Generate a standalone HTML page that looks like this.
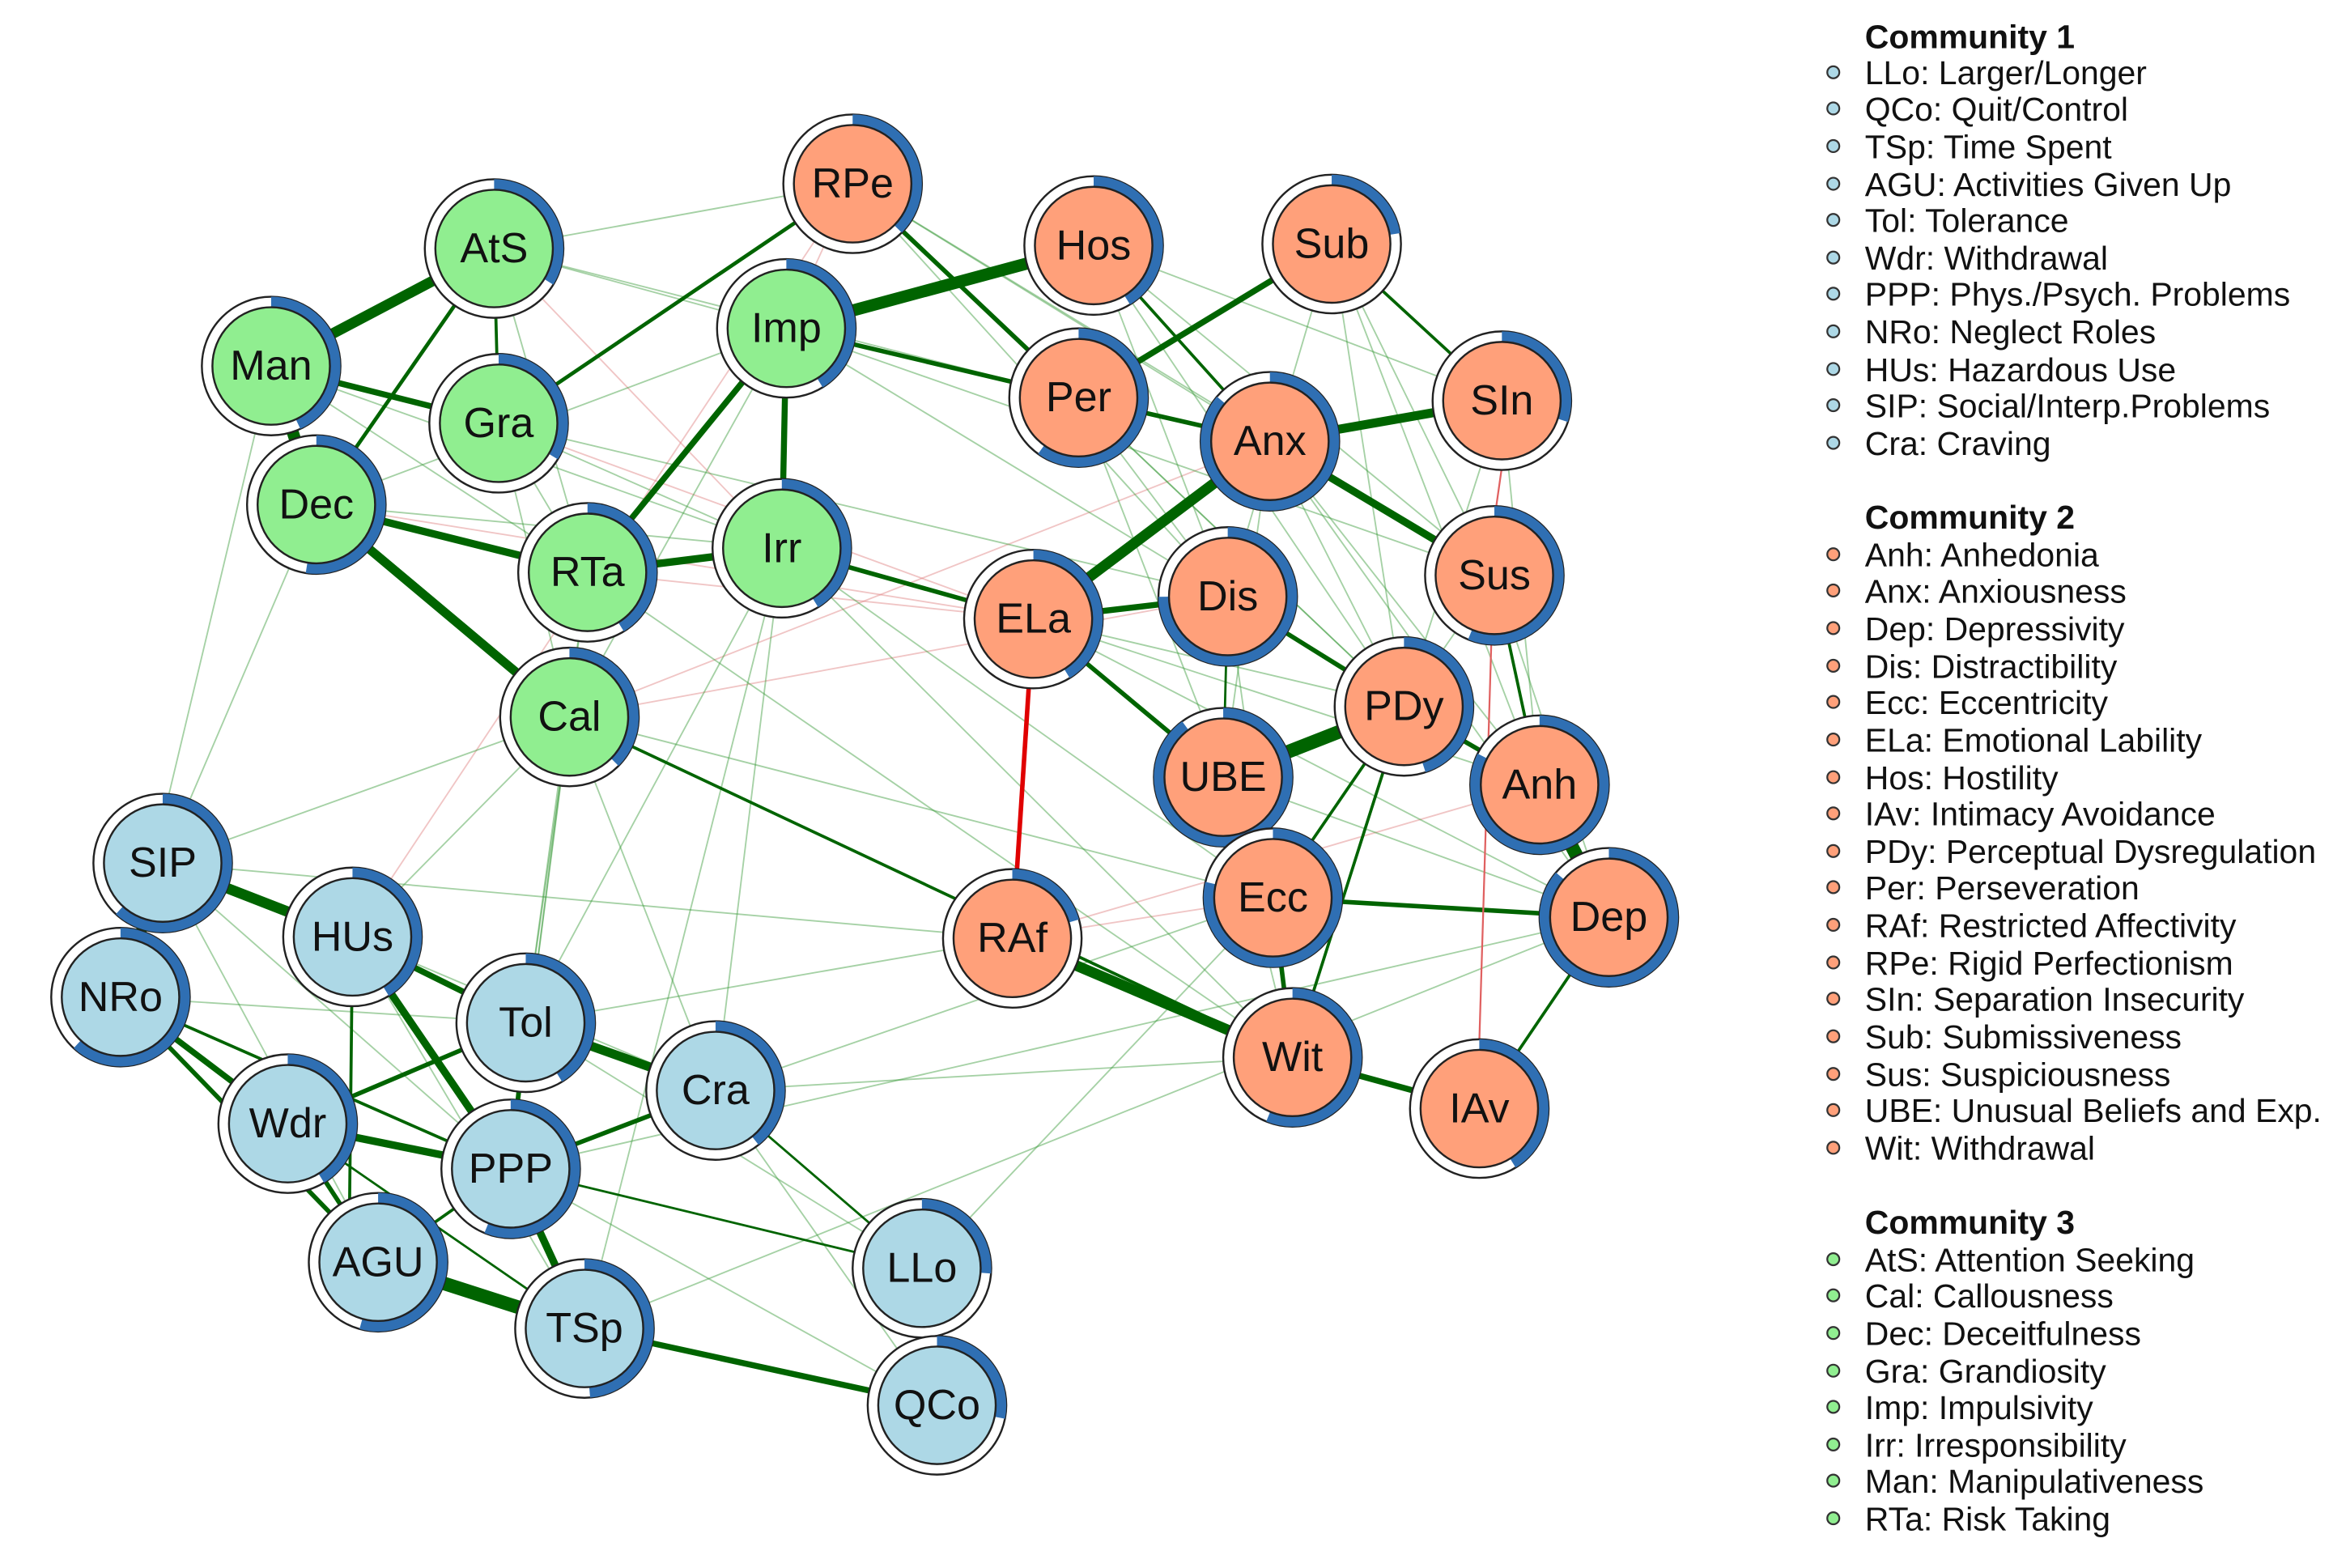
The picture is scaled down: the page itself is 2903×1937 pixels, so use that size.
<!DOCTYPE html>
<html><head><meta charset="utf-8"><style>
html,body{margin:0;padding:0;background:#fff;}
svg{display:block;}
.n text{font-family:"Liberation Sans",sans-serif;font-size:28px;text-anchor:middle;dominant-baseline:central;fill:#111;}
.lg text{font-family:"Liberation Sans",sans-serif;font-size:22px;fill:#111;}
.lg .h{font-weight:bold;}
.s line{stroke:#006400;stroke-linecap:round;}
.f line{stroke:#3a9a3a;stroke-width:1;opacity:.45;}
.p line{stroke:#e08080;stroke-width:1;opacity:.45;}
</style></head><body>
<svg width="2903" height="1937" viewBox="0 0 1560 1041" preserveAspectRatio="none">
<rect width="1560" height="1041" fill="#fff"/>
<g class="p">
<line x1="331" y1="281" x2="686" y2="411"/><line x1="210" y1="335" x2="686" y2="411"/>
<line x1="378" y1="476" x2="843" y2="293"/><line x1="378" y1="476" x2="815" y2="396"/>
<line x1="328" y1="165" x2="519" y2="364"/><line x1="390" y1="380" x2="686" y2="411"/>
<line x1="566" y1="122" x2="522" y2="218"/><line x1="672" y1="623" x2="845" y2="596"/>
<line x1="234" y1="622" x2="566" y2="122"/><line x1="672" y1="623" x2="1022" y2="521"/>
</g>
<g class="f">
<line x1="210" y1="335" x2="519" y2="364"/><line x1="331" y1="281" x2="815" y2="396"/><line x1="331" y1="281" x2="519" y2="364"/>
<line x1="180" y1="243" x2="519" y2="364"/><line x1="328" y1="165" x2="566" y2="122"/><line x1="328" y1="165" x2="522" y2="218"/>
<line x1="522" y1="218" x2="843" y2="293"/><line x1="522" y1="218" x2="815" y2="396"/><line x1="522" y1="218" x2="992" y2="382"/>
<line x1="566" y1="122" x2="843" y2="293"/><line x1="566" y1="122" x2="992" y2="382"/><line x1="566" y1="122" x2="815" y2="396"/>
<line x1="726" y1="163" x2="992" y2="382"/><line x1="726" y1="163" x2="932" y2="469"/><line x1="726" y1="163" x2="815" y2="396"/>
<line x1="726" y1="163" x2="997" y2="266"/><line x1="884" y1="162" x2="815" y2="396"/><line x1="884" y1="162" x2="1022" y2="521"/>
<line x1="884" y1="162" x2="992" y2="382"/><line x1="716" y1="264" x2="815" y2="396"/><line x1="716" y1="264" x2="845" y2="596"/>
<line x1="716" y1="264" x2="932" y2="469"/><line x1="843" y1="293" x2="932" y2="469"/><line x1="843" y1="293" x2="1022" y2="521"/>
<line x1="843" y1="293" x2="1068" y2="609"/><line x1="997" y1="266" x2="932" y2="469"/><line x1="997" y1="266" x2="1022" y2="521"/>
<line x1="992" y1="382" x2="932" y2="469"/><line x1="992" y1="382" x2="1068" y2="609"/><line x1="815" y1="396" x2="1022" y2="521"/>
<line x1="815" y1="396" x2="858" y2="702"/><line x1="686" y1="411" x2="932" y2="469"/><line x1="686" y1="411" x2="1022" y2="521"/>
<line x1="812" y1="516" x2="858" y2="702"/><line x1="812" y1="516" x2="1068" y2="609"/><line x1="378" y1="476" x2="108" y2="573"/>
<line x1="378" y1="476" x2="234" y2="622"/><line x1="378" y1="476" x2="349" y2="679"/><line x1="378" y1="476" x2="339" y2="776"/>
<line x1="378" y1="476" x2="475" y2="724"/><line x1="519" y1="364" x2="475" y2="724"/><line x1="519" y1="364" x2="388" y2="882"/>
<line x1="390" y1="380" x2="339" y2="776"/><line x1="390" y1="380" x2="349" y2="679"/><line x1="519" y1="364" x2="349" y2="679"/>
<line x1="108" y1="573" x2="672" y2="623"/><line x1="349" y1="679" x2="672" y2="623"/><line x1="475" y1="724" x2="845" y2="596"/>
<line x1="475" y1="724" x2="858" y2="702"/><line x1="378" y1="476" x2="845" y2="596"/><line x1="522" y1="218" x2="378" y2="476"/>
<line x1="331" y1="281" x2="390" y2="380"/><line x1="331" y1="281" x2="378" y2="476"/><line x1="328" y1="165" x2="390" y2="380"/>
<line x1="210" y1="335" x2="522" y2="218"/><line x1="180" y1="243" x2="390" y2="380"/><line x1="390" y1="380" x2="858" y2="702"/>
<line x1="519" y1="364" x2="845" y2="596"/><line x1="612" y1="842" x2="845" y2="596"/><line x1="388" y1="882" x2="1068" y2="609"/>
<line x1="339" y1="776" x2="1068" y2="609"/><line x1="80" y1="662" x2="349" y2="679"/><line x1="108" y1="573" x2="339" y2="776"/>
<line x1="108" y1="573" x2="251" y2="838"/><line x1="80" y1="662" x2="339" y2="776"/><line x1="234" y1="622" x2="388" y2="882"/>
<line x1="234" y1="622" x2="475" y2="724"/><line x1="349" y1="679" x2="612" y2="842"/><line x1="339" y1="776" x2="622" y2="933"/>
<line x1="475" y1="724" x2="622" y2="933"/><line x1="210" y1="335" x2="108" y2="573"/><line x1="180" y1="243" x2="80" y2="662"/>
<line x1="328" y1="165" x2="716" y2="264"/><line x1="519" y1="364" x2="858" y2="702"/><line x1="686" y1="411" x2="1068" y2="609"/>
<line x1="566" y1="122" x2="932" y2="469"/><line x1="884" y1="162" x2="932" y2="469"/><line x1="843" y1="293" x2="812" y2="516"/>
</g>
<g class="s">
<line x1="180" y1="243" x2="328" y2="165" stroke-width="7"/><line x1="180" y1="243" x2="210" y2="335" stroke-width="8"/>
<line x1="180" y1="243" x2="331" y2="281" stroke-width="4"/><line x1="328" y1="165" x2="210" y2="335" stroke-width="2.5"/>
<line x1="328" y1="165" x2="331" y2="281" stroke-width="2"/><line x1="331" y1="281" x2="566" y2="122" stroke-width="2.5"/>
<line x1="210" y1="335" x2="390" y2="380" stroke-width="5"/><line x1="210" y1="335" x2="378" y2="476" stroke-width="6"/>
<line x1="390" y1="380" x2="519" y2="364" stroke-width="5"/><line x1="390" y1="380" x2="522" y2="218" stroke-width="4"/>
<line x1="522" y1="218" x2="519" y2="364" stroke-width="4"/><line x1="522" y1="218" x2="726" y2="163" stroke-width="8"/>
<line x1="522" y1="218" x2="716" y2="264" stroke-width="3"/><line x1="566" y1="122" x2="716" y2="264" stroke-width="3"/>
<line x1="519" y1="364" x2="686" y2="411" stroke-width="3"/><line x1="716" y1="264" x2="884" y2="162" stroke-width="4"/>
<line x1="716" y1="264" x2="843" y2="293" stroke-width="3"/><line x1="843" y1="293" x2="997" y2="266" stroke-width="6"/>
<line x1="843" y1="293" x2="686" y2="411" stroke-width="7"/><line x1="843" y1="293" x2="992" y2="382" stroke-width="5"/>
<line x1="884" y1="162" x2="997" y2="266" stroke-width="2"/><line x1="726" y1="163" x2="843" y2="293" stroke-width="2"/>
<line x1="686" y1="411" x2="815" y2="396" stroke-width="4"/><line x1="686" y1="411" x2="812" y2="516" stroke-width="3"/>
<line x1="815" y1="396" x2="932" y2="469" stroke-width="3"/><line x1="932" y1="469" x2="812" y2="516" stroke-width="9"/>
<line x1="932" y1="469" x2="1022" y2="521" stroke-width="3"/><line x1="1022" y1="521" x2="1068" y2="609" stroke-width="9"/>
<line x1="845" y1="596" x2="1068" y2="609" stroke-width="3"/><line x1="845" y1="596" x2="858" y2="702" stroke-width="3"/>
<line x1="672" y1="623" x2="858" y2="702" stroke-width="7"/><line x1="858" y1="702" x2="982" y2="736" stroke-width="4"/>
<line x1="858" y1="702" x2="932" y2="469" stroke-width="2"/><line x1="1068" y1="609" x2="982" y2="736" stroke-width="2"/>
<line x1="845" y1="596" x2="812" y2="516" stroke-width="2"/><line x1="845" y1="596" x2="932" y2="469" stroke-width="2"/>
<line x1="815" y1="396" x2="812" y2="516" stroke-width="1.5"/><line x1="378" y1="476" x2="858" y2="702" stroke-width="2"/>
<line x1="992" y1="382" x2="1022" y2="521" stroke-width="2"/><line x1="686" y1="411" x2="672" y2="623" stroke-width="1.5"/>
<line x1="108" y1="573" x2="234" y2="622" stroke-width="7"/><line x1="108" y1="573" x2="80" y2="662" stroke-width="7"/>
<line x1="80" y1="662" x2="191" y2="746" stroke-width="4"/><line x1="80" y1="662" x2="251" y2="838" stroke-width="3"/>
<line x1="234" y1="622" x2="349" y2="679" stroke-width="4"/><line x1="234" y1="622" x2="339" y2="776" stroke-width="5"/>
<line x1="234" y1="622" x2="232" y2="805" stroke-width="2"/><line x1="349" y1="679" x2="475" y2="724" stroke-width="6"/>
<line x1="349" y1="679" x2="191" y2="746" stroke-width="3"/><line x1="349" y1="679" x2="339" y2="776" stroke-width="3"/>
<line x1="191" y1="746" x2="339" y2="776" stroke-width="5"/><line x1="191" y1="746" x2="251" y2="838" stroke-width="3"/>
<line x1="475" y1="724" x2="339" y2="776" stroke-width="3"/><line x1="339" y1="776" x2="388" y2="882" stroke-width="5"/>
<line x1="251" y1="838" x2="388" y2="882" stroke-width="9"/><line x1="339" y1="776" x2="251" y2="838" stroke-width="2"/>
<line x1="388" y1="882" x2="622" y2="933" stroke-width="4"/><line x1="612" y1="842" x2="622" y2="933" stroke-width="8"/>
<line x1="339" y1="776" x2="612" y2="842" stroke-width="1.5"/><line x1="475" y1="724" x2="612" y2="842" stroke-width="1.5"/>
<line x1="80" y1="662" x2="339" y2="776" stroke-width="2"/><line x1="191" y1="746" x2="388" y2="882" stroke-width="1.5"/>
</g>
<line x1="683" y1="455" x2="675" y2="579" stroke="#e00000" stroke-width="3"/>
<line x1="997" y1="310" x2="993" y2="338" stroke="#e06060" stroke-width="1.2"/>
<line x1="990" y1="426" x2="982" y2="692" stroke="#e06060" stroke-width="1.2"/>

<g class="n" stroke="#222" stroke-width="1.3">
<!-- nodes -->
<g><circle cx="566" cy="122" r="46" fill="#fff"/><circle cx="566" cy="122" r="42.5" fill="none" stroke="#2f6fb3" stroke-width="7" stroke-dasharray="100 267" transform="rotate(-90 566 122)"/><circle cx="566" cy="122" r="39" fill="#FFA07A"/><text x="566" y="122" stroke="none">RPe</text></g>
<g><circle cx="726" cy="163" r="46" fill="#fff"/><circle cx="726" cy="163" r="42.5" fill="none" stroke="#2f6fb3" stroke-width="7" stroke-dasharray="110 267" transform="rotate(-90 726 163)"/><circle cx="726" cy="163" r="39" fill="#FFA07A"/><text x="726" y="163" stroke="none">Hos</text></g>
<g><circle cx="884" cy="162" r="46" fill="#fff"/><circle cx="884" cy="162" r="42.5" fill="none" stroke="#2f6fb3" stroke-width="7" stroke-dasharray="60 267" transform="rotate(-90 884 162)"/><circle cx="884" cy="162" r="39" fill="#FFA07A"/><text x="884" y="162" stroke="none">Sub</text></g>
<g><circle cx="328" cy="165" r="46" fill="#fff"/><circle cx="328" cy="165" r="42.5" fill="none" stroke="#2f6fb3" stroke-width="7" stroke-dasharray="90 267" transform="rotate(-90 328 165)"/><circle cx="328" cy="165" r="39" fill="#90EE90"/><text x="328" y="165" stroke="none">AtS</text></g>
<g><circle cx="522" cy="218" r="46" fill="#fff"/><circle cx="522" cy="218" r="42.5" fill="none" stroke="#2f6fb3" stroke-width="7" stroke-dasharray="110 267" transform="rotate(-90 522 218)"/><circle cx="522" cy="218" r="39" fill="#90EE90"/><text x="522" y="218" stroke="none">Imp</text></g>
<g><circle cx="180" cy="243" r="46" fill="#fff"/><circle cx="180" cy="243" r="42.5" fill="none" stroke="#2f6fb3" stroke-width="7" stroke-dasharray="115 267" transform="rotate(-90 180 243)"/><circle cx="180" cy="243" r="39" fill="#90EE90"/><text x="180" y="243" stroke="none">Man</text></g>
<g><circle cx="331" cy="281" r="46" fill="#fff"/><circle cx="331" cy="281" r="42.5" fill="none" stroke="#2f6fb3" stroke-width="7" stroke-dasharray="90 267" transform="rotate(-90 331 281)"/><circle cx="331" cy="281" r="39" fill="#90EE90"/><text x="331" y="281" stroke="none">Gra</text></g>
<g><circle cx="716" cy="264" r="46" fill="#fff"/><circle cx="716" cy="264" r="42.5" fill="none" stroke="#2f6fb3" stroke-width="7" stroke-dasharray="160 267" transform="rotate(-90 716 264)"/><circle cx="716" cy="264" r="39" fill="#FFA07A"/><text x="716" y="264" stroke="none">Per</text></g>
<g><circle cx="843" cy="293" r="46" fill="#fff"/><circle cx="843" cy="293" r="42.5" fill="none" stroke="#2f6fb3" stroke-width="7" stroke-dasharray="230 267" transform="rotate(-90 843 293)"/><circle cx="843" cy="293" r="39" fill="#FFA07A"/><text x="843" y="293" stroke="none">Anx</text></g>
<g><circle cx="997" cy="266" r="46" fill="#fff"/><circle cx="997" cy="266" r="42.5" fill="none" stroke="#2f6fb3" stroke-width="7" stroke-dasharray="80 267" transform="rotate(-90 997 266)"/><circle cx="997" cy="266" r="39" fill="#FFA07A"/><text x="997" y="266" stroke="none">SIn</text></g>
<g><circle cx="210" cy="335" r="46" fill="#fff"/><circle cx="210" cy="335" r="42.5" fill="none" stroke="#2f6fb3" stroke-width="7" stroke-dasharray="140 267" transform="rotate(-90 210 335)"/><circle cx="210" cy="335" r="39" fill="#90EE90"/><text x="210" y="335" stroke="none">Dec</text></g>
<g><circle cx="390" cy="380" r="46" fill="#fff"/><circle cx="390" cy="380" r="42.5" fill="none" stroke="#2f6fb3" stroke-width="7" stroke-dasharray="110 267" transform="rotate(-90 390 380)"/><circle cx="390" cy="380" r="39" fill="#90EE90"/><text x="390" y="380" stroke="none">RTa</text></g>
<g><circle cx="519" cy="364" r="46" fill="#fff"/><circle cx="519" cy="364" r="42.5" fill="none" stroke="#2f6fb3" stroke-width="7" stroke-dasharray="110 267" transform="rotate(-90 519 364)"/><circle cx="519" cy="364" r="39" fill="#90EE90"/><text x="519" y="364" stroke="none">Irr</text></g>
<g><circle cx="686" cy="411" r="46" fill="#fff"/><circle cx="686" cy="411" r="42.5" fill="none" stroke="#2f6fb3" stroke-width="7" stroke-dasharray="110 267" transform="rotate(-90 686 411)"/><circle cx="686" cy="411" r="39" fill="#FFA07A"/><text x="686" y="411" stroke="none">ELa</text></g>
<g><circle cx="815" cy="396" r="46" fill="#fff"/><circle cx="815" cy="396" r="42.5" fill="none" stroke="#2f6fb3" stroke-width="7" stroke-dasharray="200 267" transform="rotate(-90 815 396)"/><circle cx="815" cy="396" r="39" fill="#FFA07A"/><text x="815" y="396" stroke="none">Dis</text></g>
<g><circle cx="992" cy="382" r="46" fill="#fff"/><circle cx="992" cy="382" r="42.5" fill="none" stroke="#2f6fb3" stroke-width="7" stroke-dasharray="150 267" transform="rotate(-90 992 382)"/><circle cx="992" cy="382" r="39" fill="#FFA07A"/><text x="992" y="382" stroke="none">Sus</text></g>
<g><circle cx="378" cy="476" r="46" fill="#fff"/><circle cx="378" cy="476" r="42.5" fill="none" stroke="#2f6fb3" stroke-width="7" stroke-dasharray="100 267" transform="rotate(-90 378 476)"/><circle cx="378" cy="476" r="39" fill="#90EE90"/><text x="378" y="476" stroke="none">Cal</text></g>
<g><circle cx="932" cy="469" r="46" fill="#fff"/><circle cx="932" cy="469" r="42.5" fill="none" stroke="#2f6fb3" stroke-width="7" stroke-dasharray="120 267" transform="rotate(-90 932 469)"/><circle cx="932" cy="469" r="39" fill="#FFA07A"/><text x="932" y="469" stroke="none">PDy</text></g>
<g><circle cx="812" cy="516" r="46" fill="#fff"/><circle cx="812" cy="516" r="42.5" fill="none" stroke="#2f6fb3" stroke-width="7" stroke-dasharray="240 267" transform="rotate(-90 812 516)"/><circle cx="812" cy="516" r="39" fill="#FFA07A"/><text x="812" y="516" stroke="none">UBE</text></g>
<g><circle cx="1022" cy="521" r="46" fill="#fff"/><circle cx="1022" cy="521" r="42.5" fill="none" stroke="#2f6fb3" stroke-width="7" stroke-dasharray="220 267" transform="rotate(-90 1022 521)"/><circle cx="1022" cy="521" r="39" fill="#FFA07A"/><text x="1022" y="521" stroke="none">Anh</text></g>
<g><circle cx="845" cy="596" r="46" fill="#fff"/><circle cx="845" cy="596" r="42.5" fill="none" stroke="#2f6fb3" stroke-width="7" stroke-dasharray="210 267" transform="rotate(-90 845 596)"/><circle cx="845" cy="596" r="39" fill="#FFA07A"/><text x="845" y="596" stroke="none">Ecc</text></g>
<g><circle cx="1068" cy="609" r="46" fill="#fff"/><circle cx="1068" cy="609" r="42.5" fill="none" stroke="#2f6fb3" stroke-width="7" stroke-dasharray="230 267" transform="rotate(-90 1068 609)"/><circle cx="1068" cy="609" r="39" fill="#FFA07A"/><text x="1068" y="609" stroke="none">Dep</text></g>
<g><circle cx="672" cy="623" r="46" fill="#fff"/><circle cx="672" cy="623" r="42.5" fill="none" stroke="#2f6fb3" stroke-width="7" stroke-dasharray="55 267" transform="rotate(-90 672 623)"/><circle cx="672" cy="623" r="39" fill="#FFA07A"/><text x="672" y="623" stroke="none">RAf</text></g>
<g><circle cx="858" cy="702" r="46" fill="#fff"/><circle cx="858" cy="702" r="42.5" fill="none" stroke="#2f6fb3" stroke-width="7" stroke-dasharray="150 267" transform="rotate(-90 858 702)"/><circle cx="858" cy="702" r="39" fill="#FFA07A"/><text x="858" y="702" stroke="none">Wit</text></g>
<g><circle cx="982" cy="736" r="46" fill="#fff"/><circle cx="982" cy="736" r="42.5" fill="none" stroke="#2f6fb3" stroke-width="7" stroke-dasharray="110 267" transform="rotate(-90 982 736)"/><circle cx="982" cy="736" r="39" fill="#FFA07A"/><text x="982" y="736" stroke="none">IAv</text></g>
<g><circle cx="108" cy="573" r="46" fill="#fff"/><circle cx="108" cy="573" r="42.5" fill="none" stroke="#2f6fb3" stroke-width="7" stroke-dasharray="165 267" transform="rotate(-90 108 573)"/><circle cx="108" cy="573" r="39" fill="#ADD8E6"/><text x="108" y="573" stroke="none">SIP</text></g>
<g><circle cx="234" cy="622" r="46" fill="#fff"/><circle cx="234" cy="622" r="42.5" fill="none" stroke="#2f6fb3" stroke-width="7" stroke-dasharray="110 267" transform="rotate(-90 234 622)"/><circle cx="234" cy="622" r="39" fill="#ADD8E6"/><text x="234" y="622" stroke="none">HUs</text></g>
<g><circle cx="80" cy="662" r="46" fill="#fff"/><circle cx="80" cy="662" r="42.5" fill="none" stroke="#2f6fb3" stroke-width="7" stroke-dasharray="165 267" transform="rotate(-90 80 662)"/><circle cx="80" cy="662" r="39" fill="#ADD8E6"/><text x="80" y="662" stroke="none">NRo</text></g>
<g><circle cx="349" cy="679" r="46" fill="#fff"/><circle cx="349" cy="679" r="42.5" fill="none" stroke="#2f6fb3" stroke-width="7" stroke-dasharray="110 267" transform="rotate(-90 349 679)"/><circle cx="349" cy="679" r="39" fill="#ADD8E6"/><text x="349" y="679" stroke="none">Tol</text></g>
<g><circle cx="475" cy="724" r="46" fill="#fff"/><circle cx="475" cy="724" r="42.5" fill="none" stroke="#2f6fb3" stroke-width="7" stroke-dasharray="105 267" transform="rotate(-90 475 724)"/><circle cx="475" cy="724" r="39" fill="#ADD8E6"/><text x="475" y="724" stroke="none">Cra</text></g>
<g><circle cx="191" cy="746" r="46" fill="#fff"/><circle cx="191" cy="746" r="42.5" fill="none" stroke="#2f6fb3" stroke-width="7" stroke-dasharray="110 267" transform="rotate(-90 191 746)"/><circle cx="191" cy="746" r="39" fill="#ADD8E6"/><text x="191" y="746" stroke="none">Wdr</text></g>
<g><circle cx="339" cy="776" r="46" fill="#fff"/><circle cx="339" cy="776" r="42.5" fill="none" stroke="#2f6fb3" stroke-width="7" stroke-dasharray="150 267" transform="rotate(-90 339 776)"/><circle cx="339" cy="776" r="39" fill="#ADD8E6"/><text x="339" y="776" stroke="none">PPP</text></g>
<g><circle cx="251" cy="838" r="46" fill="#fff"/><circle cx="251" cy="838" r="42.5" fill="none" stroke="#2f6fb3" stroke-width="7" stroke-dasharray="145 267" transform="rotate(-90 251 838)"/><circle cx="251" cy="838" r="39" fill="#ADD8E6"/><text x="251" y="838" stroke="none">AGU</text></g>
<g><circle cx="612" cy="842" r="46" fill="#fff"/><circle cx="612" cy="842" r="42.5" fill="none" stroke="#2f6fb3" stroke-width="7" stroke-dasharray="70 267" transform="rotate(-90 612 842)"/><circle cx="612" cy="842" r="39" fill="#ADD8E6"/><text x="612" y="842" stroke="none">LLo</text></g>
<g><circle cx="388" cy="882" r="46" fill="#fff"/><circle cx="388" cy="882" r="42.5" fill="none" stroke="#2f6fb3" stroke-width="7" stroke-dasharray="130 267" transform="rotate(-90 388 882)"/><circle cx="388" cy="882" r="39" fill="#ADD8E6"/><text x="388" y="882" stroke="none">TSp</text></g>
<g><circle cx="622" cy="933" r="46" fill="#fff"/><circle cx="622" cy="933" r="42.5" fill="none" stroke="#2f6fb3" stroke-width="7" stroke-dasharray="75 267" transform="rotate(-90 622 933)"/><circle cx="622" cy="933" r="39" fill="#ADD8E6"/><text x="622" y="933" stroke="none">QCo</text></g>
</g>

<g class="lg">
<text class="h" x="1238" y="32">Community 1</text>
<g fill="#ADD8E6" stroke="#333" stroke-width="1.2">
<circle cx="1217" cy="48" r="4"/><circle cx="1217" cy="72" r="4"/><circle cx="1217" cy="97" r="4"/><circle cx="1217" cy="122" r="4"/><circle cx="1217" cy="146" r="4"/><circle cx="1217" cy="171" r="4"/><circle cx="1217" cy="195" r="4"/><circle cx="1217" cy="220" r="4"/><circle cx="1217" cy="245" r="4"/><circle cx="1217" cy="269" r="4"/><circle cx="1217" cy="294" r="4"/>
</g>
<text x="1238" y="56">LLo: Larger/Longer</text>
<text x="1238" y="80">QCo: Quit/Control</text>
<text x="1238" y="105">TSp: Time Spent</text>
<text x="1238" y="130">AGU: Activities Given Up</text>
<text x="1238" y="154">Tol: Tolerance</text>
<text x="1238" y="179">Wdr: Withdrawal</text>
<text x="1238" y="203">PPP: Phys./Psych. Problems</text>
<text x="1238" y="228">NRo: Neglect Roles</text>
<text x="1238" y="253">HUs: Hazardous Use</text>
<text x="1238" y="277">SIP: Social/Interp.Problems</text>
<text x="1238" y="302">Cra: Craving</text>

<text class="h" x="1238" y="351">Community 2</text>
<g fill="#FFA07A" stroke="#333" stroke-width="1.2">
<circle cx="1217" cy="368" r="4"/><circle cx="1217" cy="392" r="4"/><circle cx="1217" cy="417" r="4"/><circle cx="1217" cy="442" r="4"/><circle cx="1217" cy="466" r="4"/><circle cx="1217" cy="491" r="4"/><circle cx="1217" cy="516" r="4"/><circle cx="1217" cy="540" r="4"/><circle cx="1217" cy="565" r="4"/><circle cx="1217" cy="589" r="4"/><circle cx="1217" cy="614" r="4"/><circle cx="1217" cy="639" r="4"/><circle cx="1217" cy="663" r="4"/><circle cx="1217" cy="688" r="4"/><circle cx="1217" cy="713" r="4"/><circle cx="1217" cy="737" r="4"/><circle cx="1217" cy="762" r="4"/>
</g>
<text x="1238" y="376">Anh: Anhedonia</text>
<text x="1238" y="400">Anx: Anxiousness</text>
<text x="1238" y="425">Dep: Depressivity</text>
<text x="1238" y="450">Dis: Distractibility</text>
<text x="1238" y="474">Ecc: Eccentricity</text>
<text x="1238" y="499">ELa: Emotional Lability</text>
<text x="1238" y="524">Hos: Hostility</text>
<text x="1238" y="548">IAv: Intimacy Avoidance</text>
<text x="1238" y="573">PDy: Perceptual Dysregulation</text>
<text x="1238" y="597">Per: Perseveration</text>
<text x="1238" y="622">RAf: Restricted Affectivity</text>
<text x="1238" y="647">RPe: Rigid Perfectionism</text>
<text x="1238" y="671">SIn: Separation Insecurity</text>
<text x="1238" y="696">Sub: Submissiveness</text>
<text x="1238" y="721">Sus: Suspiciousness</text>
<text x="1238" y="745">UBE: Unusual Beliefs and Exp.</text>
<text x="1238" y="770">Wit: Withdrawal</text>

<text class="h" x="1238" y="819">Community 3</text>
<g fill="#90EE90" stroke="#333" stroke-width="1.2">
<circle cx="1217" cy="836" r="4"/><circle cx="1217" cy="860" r="4"/><circle cx="1217" cy="885" r="4"/><circle cx="1217" cy="910" r="4"/><circle cx="1217" cy="934" r="4"/><circle cx="1217" cy="959" r="4"/><circle cx="1217" cy="983" r="4"/><circle cx="1217" cy="1008" r="4"/>
</g>
<text x="1238" y="844">AtS: Attention Seeking</text>
<text x="1238" y="868">Cal: Callousness</text>
<text x="1238" y="893">Dec: Deceitfulness</text>
<text x="1238" y="918">Gra: Grandiosity</text>
<text x="1238" y="942">Imp: Impulsivity</text>
<text x="1238" y="967">Irr: Irresponsibility</text>
<text x="1238" y="991">Man: Manipulativeness</text>
<text x="1238" y="1016">RTa: Risk Taking</text>
</g>
</svg>
</body></html>
